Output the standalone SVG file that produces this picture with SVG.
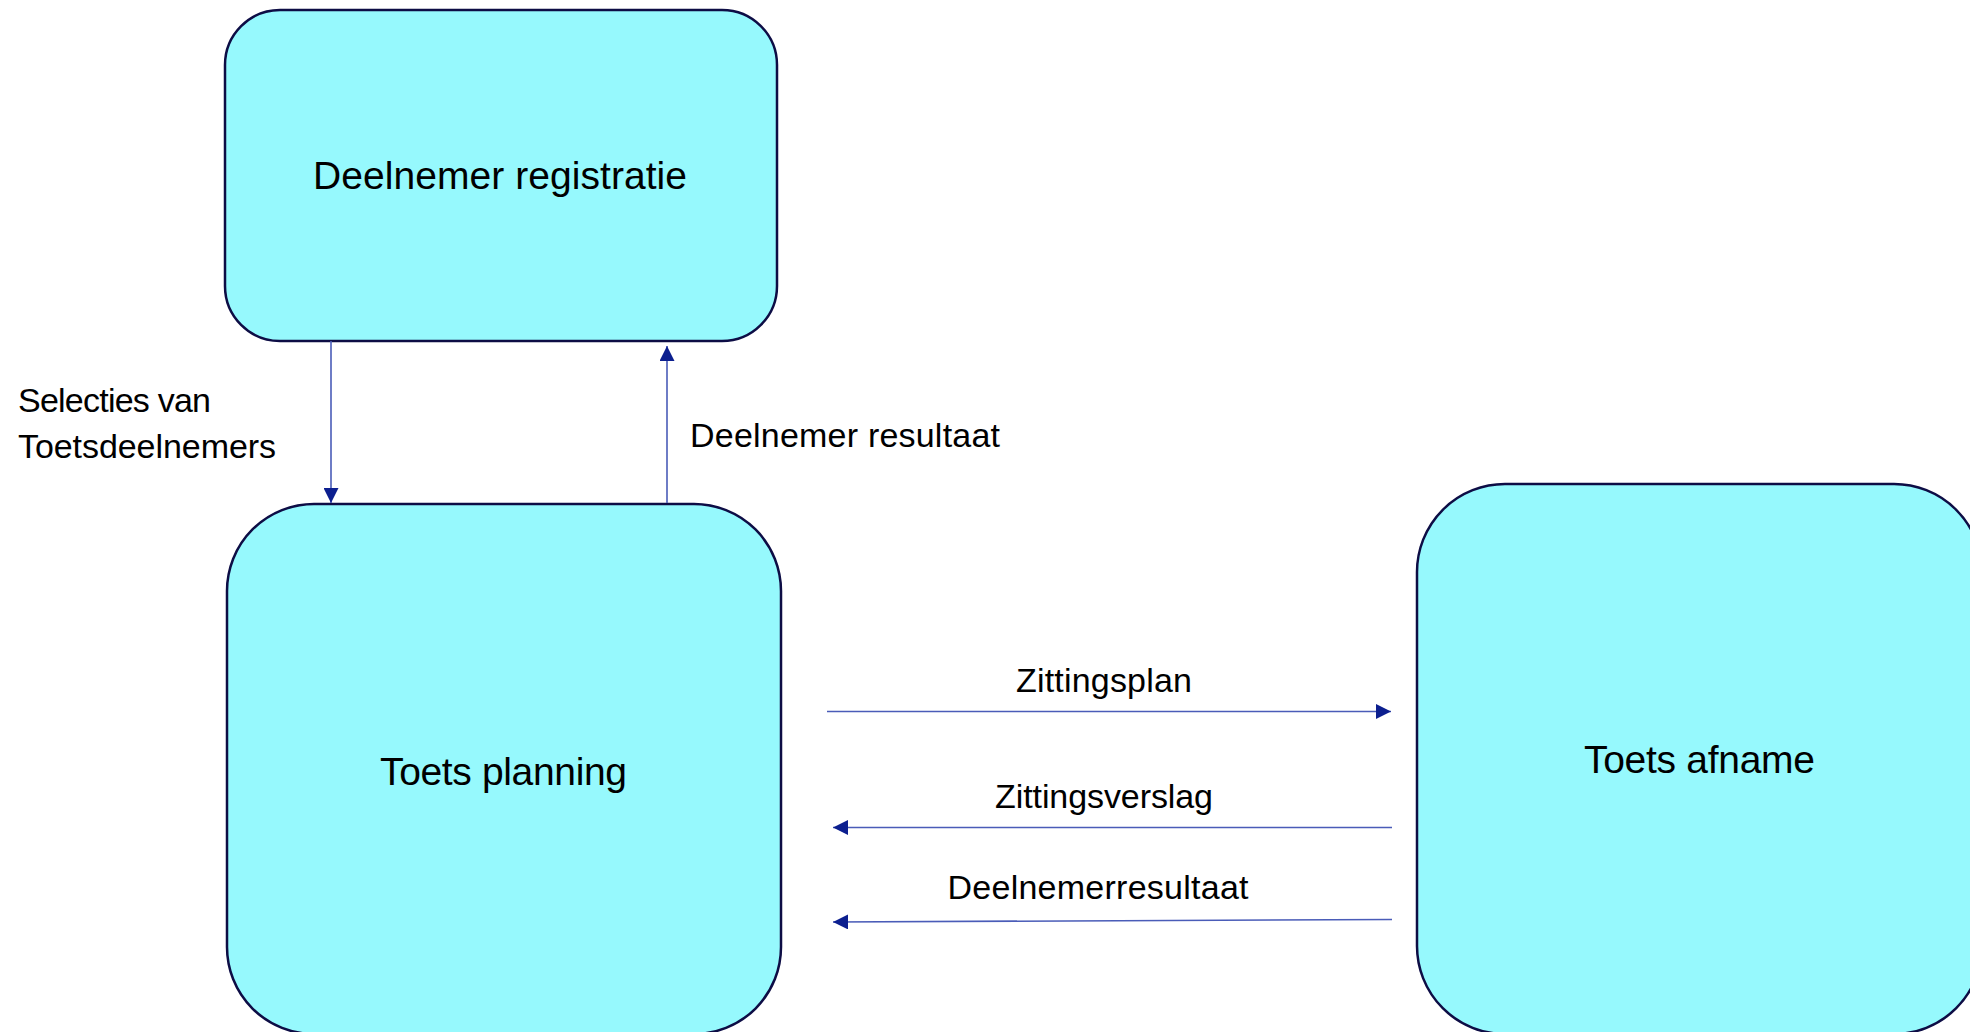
<svg xmlns="http://www.w3.org/2000/svg" width="1970" height="1032" viewBox="0 0 1970 1032">
  <style>
    .node { fill: #96f9fd; stroke: #0d0d45; stroke-width: 2.5; }
    .nlabel { font-family: "Liberation Sans", Arial, sans-serif; font-size: 39px; fill: #000; text-anchor: middle; }
    .elabel { font-family: "Liberation Sans", Arial, sans-serif; font-size: 34px; fill: #000; }
    .conn { stroke: #4a5cb8; stroke-width: 1.6; fill: none; marker-end: url(#arrow); }
  </style>
  <defs>
    <marker id="arrow" viewBox="0 0 15 15" refX="15" refY="7.5" markerWidth="15" markerHeight="15" markerUnits="userSpaceOnUse" orient="auto">
      <path d="M0,0 L15,7.5 L0,15 z" fill="#0c1f8f"/>
    </marker>
  </defs>
  <rect width="1970" height="1032" fill="#ffffff"/>

  <g id="node-deelnemer-registratie">
    <rect class="node" x="225" y="10" width="552" height="331" rx="55" ry="55"/>
    <text class="nlabel" x="500" y="189" textLength="374" lengthAdjust="spacing">Deelnemer registratie</text>
  </g>

  <g id="node-toets-planning">
    <rect class="node" x="227" y="504" width="554" height="530" rx="87" ry="87"/>
    <text class="nlabel" x="503.5" y="785" textLength="247" lengthAdjust="spacing">Toets planning</text>
  </g>

  <g id="node-toets-afname">
    <rect class="node" x="1417" y="484" width="565" height="550" rx="88" ry="88"/>
    <text class="nlabel" x="1699.5" y="773" textLength="231" lengthAdjust="spacing">Toets afname</text>
  </g>

  <g id="connectors">
    <line class="conn" x1="331" y1="341" x2="331" y2="503"/>
    <line class="conn" x1="667" y1="503" x2="667" y2="346"/>
    <line class="conn" x1="827" y1="711.5" x2="1391" y2="711.5"/>
    <line class="conn" x1="1392" y1="827.5" x2="833" y2="827.5"/>
    <line class="conn" x1="1392" y1="919.5" x2="833" y2="922"/>
    <text class="elabel" x="18" y="412" textLength="193" lengthAdjust="spacing">Selecties van</text>
    <text class="elabel" x="18" y="458" textLength="258" lengthAdjust="spacing">Toetsdeelnemers</text>
    <text class="elabel" x="690" y="447" textLength="310" lengthAdjust="spacing">Deelnemer resultaat</text>
    <text class="elabel" x="1104" y="692" text-anchor="middle" textLength="176" lengthAdjust="spacing">Zittingsplan</text>
    <text class="elabel" x="1104" y="808" text-anchor="middle" textLength="218" lengthAdjust="spacing">Zittingsverslag</text>
    <text class="elabel" x="1098" y="899" text-anchor="middle" textLength="301" lengthAdjust="spacing">Deelnemerresultaat</text>
  </g>
</svg>
